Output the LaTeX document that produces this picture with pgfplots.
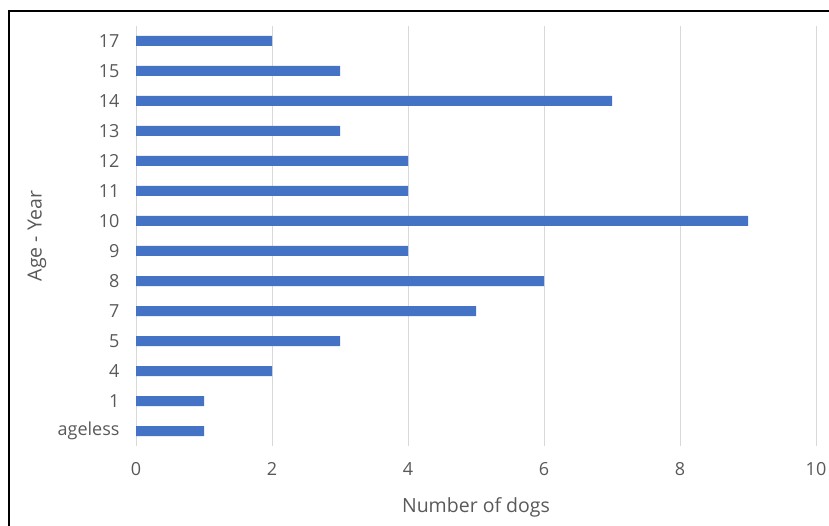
\documentclass[border=0pt]{standalone}
\usepackage{pgfplots}
\pgfplotsset{compat=1.18}
\usepackage{fontspec}
\setmainfont{Open Sans}
\definecolor{barblue}{HTML}{4472C4}
\definecolor{txtgray}{HTML}{595959}
\definecolor{gridgray}{HTML}{D9D9D9}
\begin{document}
\begin{tikzpicture}[x=1pt,y=1pt]
\path[use as bounding box] (0,0) rectangle (829,525);
\draw[black, line width=1.2pt] (9,-20) -- (9,514) -- (850,514);
\begin{axis}[
  at={(136pt,79pt)}, anchor=south west,
  scale only axis, width=680pt, height=420pt,
  xbar, bar width=10pt,
  xmin=0, xmax=10, ymin=-0.5, ymax=13.5,
  xtick={0,2,4,6,8,10},
  ytick={0,...,13},
  yticklabels={ageless,1,4,5,7,8,9,10,11,12,13,14,15,17},
  axis line style={draw=none},
  major tick length=0pt,
  xmajorgrids, grid style={gridgray, line width=1pt},
  /pgf/number format/assume math mode=true,
  tick label style={font=\fontsize{18}{21}\selectfont, text=txtgray},
  yticklabel style={xshift=-13pt},
  xticklabel style={yshift=-13pt},
  xlabel={Number of dogs}, ylabel={Age - Year},
  label style={font=\fontsize{19.5}{23}\selectfont, text=txtgray},
  xlabel style={at={(axis description cs:0.5,-0.145)}, anchor=center},
  ylabel style={at={(axis description cs:-0.1456,0.5)}, anchor=center},
]
\addplot[draw=none, fill=barblue] coordinates {
(1,0) (1,1) (2,2) (3,3) (5,4) (6,5) (4,6) (9,7) (4,8) (4,9) (3,10) (7,11) (3,12) (2,13)};
\end{axis}
\end{tikzpicture}
\end{document}
